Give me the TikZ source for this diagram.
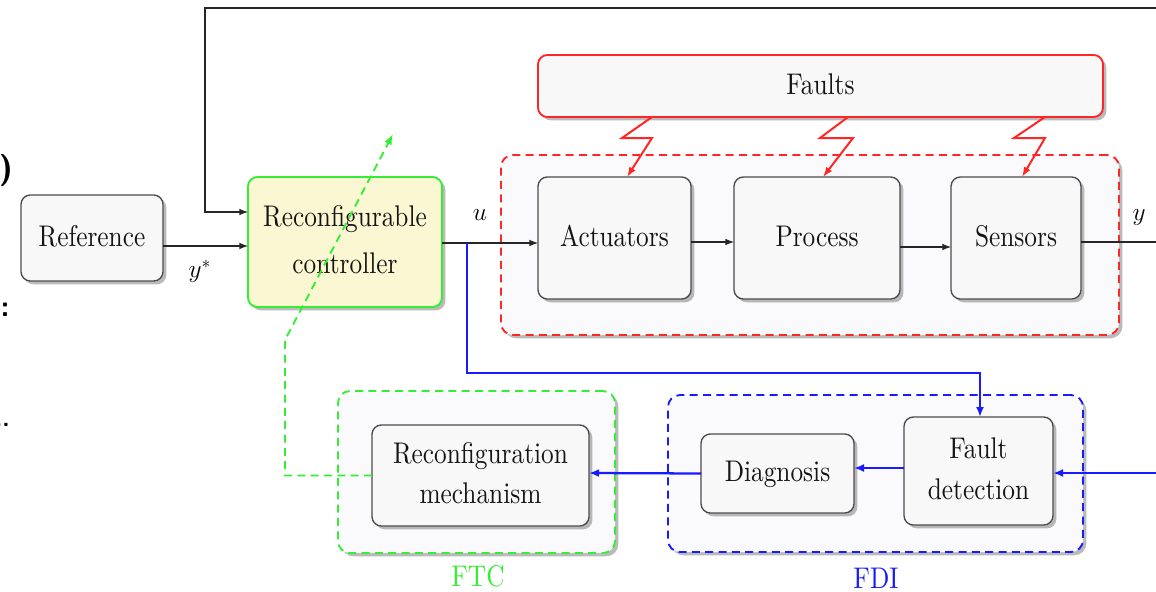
\RequirePackage{fix-cm}
\documentclass[tikz,border=0pt]{standalone}
\usepackage{fontspec}
\setmainfont{lmroman10-regular.otf}
\usepackage{graphicx}
\usetikzlibrary{arrows.meta,shadows,calc}
\definecolor{bxfill}{HTML}{F8F8F8}
\definecolor{grpfill}{HTML}{FAFAFC}
\definecolor{ctrlfill}{HTML}{FCF7D3}
\definecolor{gr}{HTML}{33EE33}
\definecolor{rd}{HTML}{FF2626}
\definecolor{bl}{HTML}{1A1AFF}
\newcommand\vst[1]{\scalebox{1}[1.18]{\begin{tabular}{@{}c@{}}#1\end{tabular}}}
\begin{document}
\begin{tikzpicture}[x=0.75pt,y=-0.75pt,
  font=\fontsize{19}{25.5}\selectfont,
  shad/.style={drop shadow={shadow xshift=2.5pt,shadow yshift=-2.5pt,opacity=0.45,fill=black!60}},
  box/.style={draw=black!70, line width=1pt, fill=bxfill, rounded corners=7pt,
    inner sep=0pt, outer sep=0pt, shad, align=center, text=black!92},
  grp/.style={line width=1.4pt, dash pattern=on 6pt off 4pt, fill=grpfill,
    rounded corners=9pt, inner sep=0pt, outer sep=0pt, shad},
  arr/.style={-{Latex[length=6.5pt,width=5pt]}, line width=0.85pt, black!85},
  barr/.style={-{Latex[length=7.5pt,width=6pt]}, line width=1.7pt, bl},
  rarr/.style={-{Latex[length=7.5pt,width=5.5pt]}, line width=1.5pt, rd},
  garr/.style={-{Latex[length=8pt,width=6pt]}, line width=1.4pt, gr, dash pattern=on 6pt off 4pt},
  lbl/.style={inner sep=0pt}
]
\useasboundingbox (0,0) rectangle (1156,592);

% stray marks at the left edge
\node[lbl, font=\sffamily\bfseries\fontsize{24}{24}\selectfont] (m1) at (6,170) {)};
\node[lbl, font=\sffamily\bfseries\fontsize{22}{22}\selectfont] (m2) at (5,310) {:};
\node[lbl, font=\sffamily\bfseries\fontsize{18}{18}\selectfont, anchor=base east] (m3) at (10,426) {..};

% groups
\node[grp, draw=rd, minimum width=463.5pt, minimum height=135pt] (plant) at (810,245) {};
\node[grp, draw=gr, minimum width=207.75pt, minimum height=121.5pt] (ftc) at (476.5,472) {};
\node[grp, draw=bl, minimum width=311.25pt, minimum height=117.75pt] (fdi) at (875.5,473.5) {};

% boxes
\node[box, minimum width=106.5pt, minimum height=64.5pt] (ref) at (92,238) {\vst{Reference}};
\node[box, draw=gr, line width=1.4pt, fill=ctrlfill, minimum width=145.5pt, minimum height=97.5pt] (ctrl) at (345,242) {\vst{Reconfigurable\\[4pt]controller}};
\node[box, minimum width=114.75pt, minimum height=91.5pt] (act) at (614.5,238) {\vst{Actuators}};
\node[box, minimum width=124.5pt, minimum height=91.5pt] (proc) at (817,238) {\vst{Process}};
\node[box, minimum width=97.5pt, minimum height=91.5pt] (sens) at (1016,238) {\vst{Sensors}};
\node[box, draw=rd, line width=1.4pt, minimum width=423.75pt, minimum height=46.5pt] (faults) at (820.5,86) {\raisebox{-2pt}{\vst{Faults}}};
\node[box, minimum width=162.75pt, minimum height=75.75pt] (rec) at (480.5,475.5) {\vst{Reconfiguration\\mechanism}};
\node[box, minimum width=114.75pt, minimum height=59.25pt] (diag) at (777.5,473.5) {\vst{Diagnosis}};
\node[box, minimum width=111.75pt, minimum height=81pt] (fd) at (978.5,471) {\vst{Fault\\detection}};

% labels
\node[lbl] (ystar) at (200,271) {$y^{*}$};
\node[lbl] (ul) at (480,215) {$u$};
\node[lbl] (yl) at (1139,218) {$y$};
\node[lbl, text=gr] (ftcl) at (478,578) {\vst{FTC}};
\node[lbl, text=bl] (fdil) at (876,580) {\vst{FDI}};

% black connectors
\coordinate (fbR) at (1160,8);
\coordinate (fbL) at (205,8);
\draw[arr] (fbR) -- (fbL) |- ($(ctrl.west)+(0,-30)$);
\draw[arr] ($(ref.east)+(0,8)$) -- ($(ctrl.west)+(0,4)$);
\draw[arr] ($(ctrl.east)+(0,1)$) -- ($(act.west)+(0,5)$);
\draw[arr] ($(act.east)+(0,4)$) -- ($(proc.west)+(0,4)$);
\draw[arr] ($(proc.east)+(0,9)$) -- ($(sens.west)+(0,9)$);
\coordinate (yout) at (1160,242);
\draw[line width=0.85pt, black!85] ($(sens.east)+(0,4)$) -- (yout);

% blue connectors
\coordinate (bsplit) at (467,243);
\draw[barr] (bsplit) |- ($(fd.north)+(1.5,-44)$) -- ($(fd.north)+(1.5,0)$);
\coordinate (bin) at (1160,473);
\draw[barr] (bin) -- ($(fd.east)+(0,2)$);
\draw[barr] ($(fd.west)+(0,-3)$) -- ($(diag.east)+(0,-5.5)$);
\draw[barr] (diag.west) -- ($(rec.east)+(0,-2.5)$);

% green feedback
\coordinate (g1) at (285,340);
\coordinate (g2) at (393,134);
\draw[garr] (rec.west) -| (g1) -- (g2);

% fault lightning arrows
\draw[rarr] (652,117) -- (622,138) -- (652,138) -- ($(act.north)+(12.5,0)$);
\draw[rarr] (848,117) -- (820,138) -- (853,138) -- ($(proc.north)+(6,0)$);
\draw[rarr] (1045,117) -- (1014,138) -- (1045,138) -- ($(sens.north)+(6,0)$);
\end{tikzpicture}
\end{document}
